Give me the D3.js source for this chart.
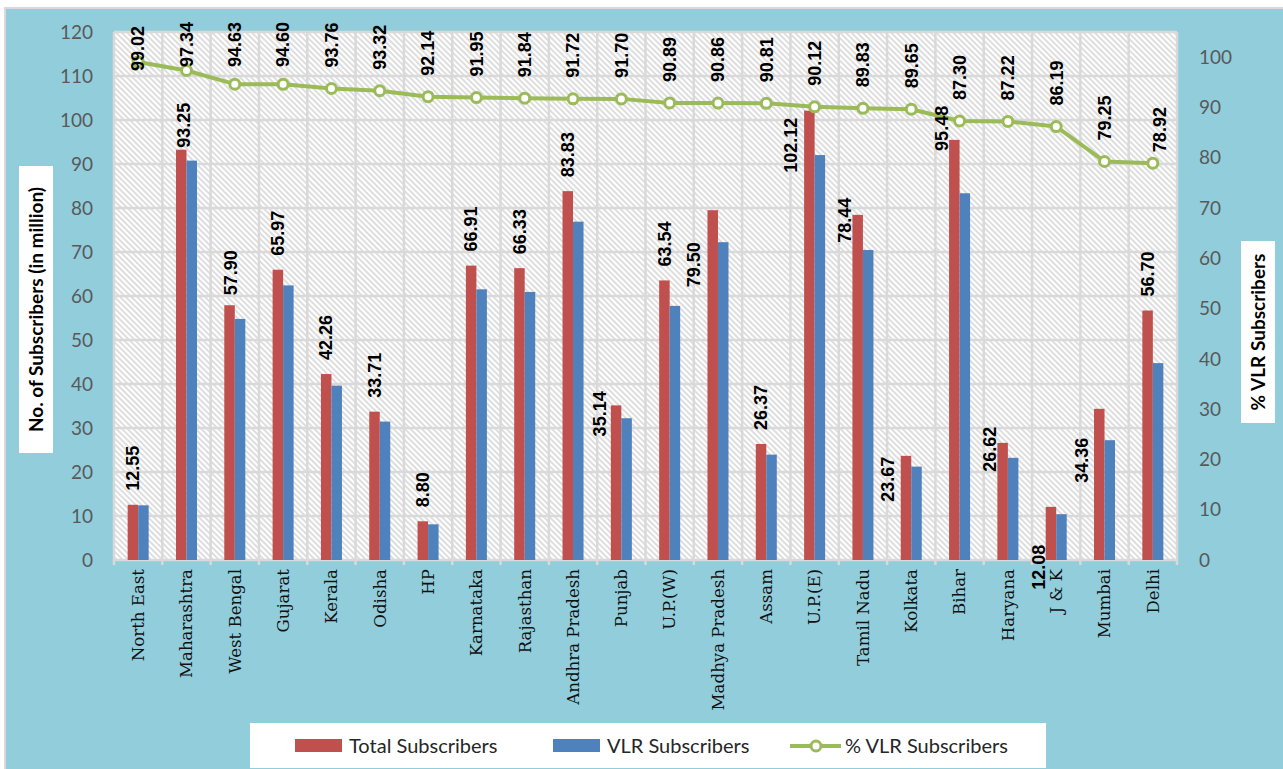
<!DOCTYPE html>
<html>
<head>
<meta charset="utf-8">
<script src="https://cdn.jsdelivr.net/npm/d3@7"></script>
<style>
  body { margin: 0; background: #fff; }
  svg { display: block; }
</style>
</head>
<body>
<script>
// Chart data
var categories = ["North East", "Maharashtra", "West Bengal", "Gujarat", "Kerala", "Odisha", "HP",
  "Karnataka", "Rajasthan", "Andhra Pradesh", "Punjab", "U.P.(W)", "Madhya Pradesh", "Assam",
  "U.P.(E)", "Tamil Nadu", "Kolkata", "Bihar", "Haryana", "J & K", "Mumbai", "Delhi"];
var totalSubs = [12.55, 93.25, 57.90, 65.97, 42.26, 33.71, 8.80, 66.91, 66.33, 83.83, 35.14,
  63.54, 79.50, 26.37, 102.12, 78.44, 23.67, 95.48, 26.62, 12.08, 34.36, 56.70];
var vlrSubs = [12.43, 90.77, 54.79, 62.41, 39.62, 31.46, 8.11, 61.52, 60.92, 76.89, 32.22,
  57.75, 72.23, 23.95, 92.03, 70.46, 21.22, 83.35, 23.22, 10.41, 27.23, 44.75];
var pctVlr = [99.02, 97.34, 94.63, 94.60, 93.76, 93.32, 92.14, 91.95, 91.84, 91.72, 91.70,
  90.89, 90.86, 90.81, 90.12, 89.83, 89.65, 87.30, 87.22, 86.19, 79.25, 78.92];
var leftTicks = [0, 10, 20, 30, 40, 50, 60, 70, 80, 90, 100, 110, 120];
var rightTicks = [0, 10, 20, 30, 40, 50, 60, 70, 80, 90, 100];

// label nudges (dx, dy) where the labels were moved by hand in the original
var barLabelNudge = {1: [2, 12], 2: [1, 4], 10: [-16, 45], 12: [-19, 91], 14: [-19, 76],
  15: [-13, 42], 16: [-18, 60], 17: [-13, 25], 18: [-13, 43], 19: [-12, 97], 20: [-18, 88]};
var lineLabelNudge = {0: [0, 4], 21: [7, 10]};

var W = 1283, H = 769;
var margin = {top: 32, right: 106, bottom: 209, left: 114};
var plotW = W - margin.left - margin.right,
    plotH = H - margin.top - margin.bottom;

var red = "#C0504D", blue = "#4F81BD", green = "#9BBB59", bg = "#92CDDC", grid = "#d9d9d9";

var svg = d3.select("body").append("svg")
    .attr("width", W)
    .attr("height", H);

// hatch pattern for the plot area
var defs = svg.append("defs");
defs.append("pattern")
    .attr("id", "hatch")
    .attr("patternUnits", "userSpaceOnUse")
    .attr("width", 4).attr("height", 4)
    .attr("patternTransform", "rotate(-45)")
  .append("line")
    .attr("x1", 1).attr("y1", 0).attr("x2", 1).attr("y2", 4)
    .attr("stroke", "#bdbdbd").attr("stroke-width", 1);

// outer frame
svg.append("rect")
    .attr("x", 5).attr("y", 8)
    .attr("width", W - 4).attr("height", H)
    .attr("fill", bg)
    .attr("stroke", grid).attr("stroke-width", 2);

var g = svg.append("g")
    .attr("transform", "translate(" + margin.left + "," + margin.top + ")");

var x = d3.scaleBand().domain(categories).range([0, plotW]).padding(0);
var xSub = d3.scaleBand().domain(["total", "vlr"]).range([0, 21]);
var yL = d3.scaleLinear().domain([0, 120]).range([plotH, 0]);
var yR = d3.scaleLinear().domain([0, 105]).range([plotH, 0]);

g.append("rect")
    .attr("width", plotW).attr("height", plotH)
    .attr("fill", "#fff");
g.append("rect")
    .attr("width", plotW).attr("height", plotH)
    .attr("fill", "url(#hatch)");

// gridlines
g.selectAll("line.hgrid")
    .data(leftTicks)
  .enter().append("line")
    .attr("class", "hgrid")
    .attr("x1", 0).attr("x2", plotW)
    .attr("y1", function(d) { return yL(d); })
    .attr("y2", function(d) { return yL(d); })
    .attr("stroke", grid).attr("stroke-width", 2.5);

var bounds = categories.map(function(c) { return x(c); }).concat([plotW]);
g.selectAll("line.vgrid")
    .data(bounds)
  .enter().append("line")
    .attr("class", "vgrid")
    .attr("x1", function(d) { return d; })
    .attr("x2", function(d) { return d; })
    .attr("y1", 0).attr("y2", plotH + 5)
    .attr("stroke", grid).attr("stroke-width", 2.5);

// left axis tick labels
g.selectAll("text.ltick")
    .data(leftTicks)
  .enter().append("text")
    .attr("class", "ltick")
    .attr("x", -21)
    .attr("y", function(d) { return yL(d); })
    .attr("dy", "0.35em")
    .attr("text-anchor", "end")
    .style("font", "19px Lato")
    .attr("fill", "#595959")
    .text(function(d) { return d; });

// right axis tick labels
g.selectAll("text.rtick")
    .data(rightTicks)
  .enter().append("text")
    .attr("class", "rtick")
    .attr("x", plotW + 22)
    .attr("y", function(d) { return yR(d); })
    .attr("dy", "0.35em")
    .attr("text-anchor", "start")
    .style("font", "19px Lato")
    .attr("fill", "#595959")
    .text(function(d) { return d; });

// category labels
g.selectAll("text.cat")
    .data(categories)
  .enter().append("text")
    .attr("class", "cat")
    .attr("transform", function(d) {
        return "translate(" + (x(d) + x.bandwidth() / 2) + "," + (plotH + 9) + ") rotate(-90)";
    })
    .attr("dy", "0.35em")
    .attr("text-anchor", "end")
    .style("font", "16.6px 'DejaVu Serif'")
    .attr("fill", "#111")
    .text(function(d) { return d; });

// bars
var rows = categories.map(function(c, i) {
    return {cat: c, i: i, total: totalSubs[i], vlr: vlrSubs[i], pct: pctVlr[i]};
});

var cats = g.selectAll("g.cat")
    .data(rows)
  .enter().append("g")
    .attr("class", "cat")
    .attr("transform", function(d) {
        return "translate(" + (x(d.cat) + x.bandwidth() / 2 - 10.5) + ",0)";
    });

cats.append("rect")
    .attr("x", xSub("total"))
    .attr("width", xSub.bandwidth())
    .attr("y", function(d) { return yL(d.total); })
    .attr("height", function(d) { return plotH - yL(d.total); })
    .attr("fill", red);

cats.append("rect")
    .attr("x", xSub("vlr"))
    .attr("width", xSub.bandwidth())
    .attr("y", function(d) { return yL(d.vlr); })
    .attr("height", function(d) { return plotH - yL(d.vlr); })
    .attr("fill", blue);

// % VLR line
var line = d3.line()
    .x(function(d) { return x(d.cat) + x.bandwidth() / 2; })
    .y(function(d) { return yR(d.pct); });

g.append("path")
    .datum(rows)
    .attr("fill", "none")
    .attr("stroke", green)
    .attr("stroke-width", 4)
    .attr("stroke-linejoin", "round")
    .attr("d", line);

g.selectAll("circle.pt")
    .data(rows)
  .enter().append("circle")
    .attr("class", "pt")
    .attr("cx", function(d) { return x(d.cat) + x.bandwidth() / 2; })
    .attr("cy", function(d) { return yR(d.pct); })
    .attr("r", 5)
    .attr("fill", "#fff")
    .attr("stroke", green)
    .attr("stroke-width", 3);

// bar value labels
g.selectAll("text.blab")
    .data(rows)
  .enter().append("text")
    .attr("class", "blab")
    .attr("transform", function(d) {
        var n = barLabelNudge[d.i] || [0, 0];
        var cx = x(d.cat) + x.bandwidth() / 2 - 10.5 + xSub("total") + xSub.bandwidth() / 2 + n[0];
        var by = yL(d.total) - 14 + n[1];
        return "translate(" + cx + "," + by + ") rotate(-90)";
    })
    .attr("dy", "0.35em")
    .attr("text-anchor", "start")
    .style("font", "bold 18px 'Liberation Sans'")
    .attr("fill", "#000")
    .text(function(d) { return d.total.toFixed(2); });

// line value labels (kept inside the chart area)
var plab = g.selectAll("text.plab")
    .data(rows)
  .enter().append("text")
    .attr("class", "plab")
    .attr("dy", "0.35em")
    .attr("text-anchor", "start")
    .style("font", "bold 18px 'Liberation Sans'")
    .attr("fill", "#000")
    .text(function(d) { return d.pct.toFixed(2); });

plab.attr("transform", function(d) {
    var n = lineLabelNudge[d.i] || [0, 0];
    var len = this.getComputedTextLength();
    var cx = x(d.cat) + x.bandwidth() / 2 + n[0];
    var by = Math.max(yR(d.pct) - 21, -10 + len) + n[1];
    return "translate(" + cx + "," + by + ") rotate(-90)";
});

// axis titles
function axisTitle(cx, cy, bw, bh, label) {
    svg.append("rect")
        .attr("x", cx - bw / 2).attr("y", cy - bh / 2)
        .attr("width", bw).attr("height", bh)
        .attr("fill", "#fff");
    svg.append("text")
        .attr("transform", "translate(" + cx + "," + cy + ") rotate(-90)")
        .attr("dy", "0.35em")
        .attr("text-anchor", "middle")
        .style("font", "bold 19px Lato")
        .attr("fill", "#000")
        .text(label);
}
axisTitle(36, 309.5, 34, 287, "No. of Subscribers (in million)");
axisTitle(1258, 332, 34, 182, "% VLR Subscribers");

// legend
var leg = svg.append("g");
leg.append("rect")
    .attr("x", 250).attr("y", 723)
    .attr("width", 796).attr("height", 45)
    .attr("fill", "#fff");

var legItems = [
    {label: "Total Subscribers", color: red, x: 295, type: "bar"},
    {label: "VLR Subscribers", color: blue, x: 553, type: "bar"},
    {label: "% VLR Subscribers", color: green, x: 790, type: "line"}
];
legItems.forEach(function(it) {
    if (it.type === "bar") {
        leg.append("rect")
            .attr("x", it.x).attr("y", 739)
            .attr("width", 47).attr("height", 13)
            .attr("fill", it.color);
    } else {
        leg.append("line")
            .attr("x1", it.x).attr("x2", it.x + 51)
            .attr("y1", 746).attr("y2", 746)
            .attr("stroke", it.color).attr("stroke-width", 4);
        leg.append("circle")
            .attr("cx", it.x + 26).attr("cy", 746).attr("r", 5)
            .attr("fill", "#fff").attr("stroke", it.color).attr("stroke-width", 3);
    }
    leg.append("text")
        .attr("x", it.x + (it.type === "bar" ? 54 : 55))
        .attr("y", 746)
        .attr("dy", "0.35em")
        .style("font", "20px Lato")
        .attr("fill", "#262626")
        .text(it.label);
});
</script>
</body>
</html>
